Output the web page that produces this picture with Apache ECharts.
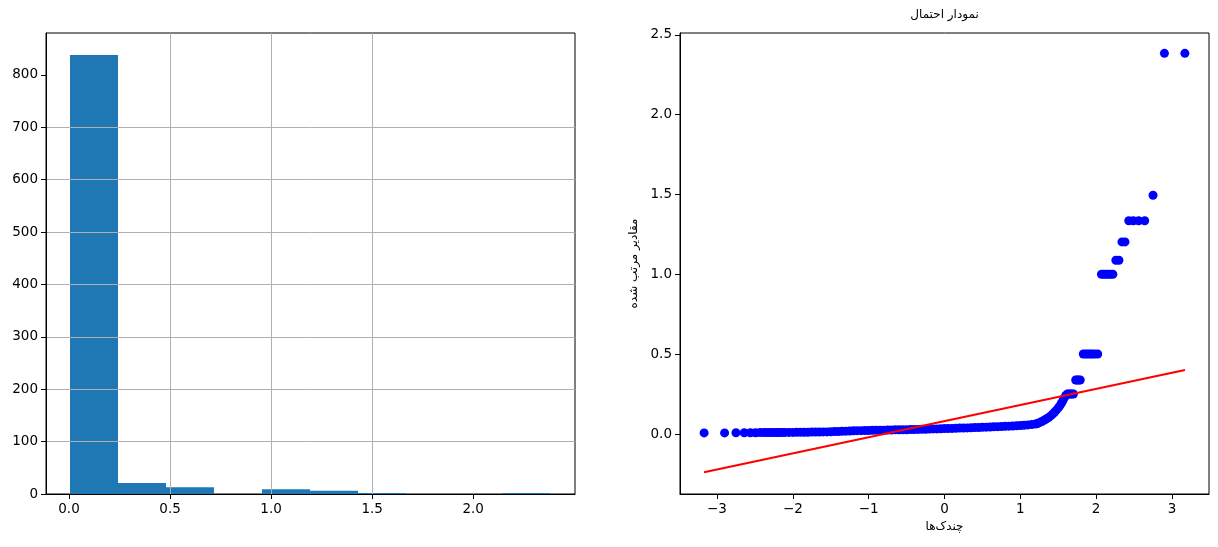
<!DOCTYPE html>
<html><head><meta charset="utf-8">
<script src="https://cdn.jsdelivr.net/npm/echarts@6/dist/echarts.min.js"></script>
<style>html,body{margin:0;padding:0;background:#fff}#c{width:1218px;height:547px}</style>
</head><body><div id="c"></div>
<script>
// ---- Histogram (left) ----
const binEdges = [0.005, 0.2425, 0.48, 0.7175, 0.955, 1.1925, 1.43, 1.6675, 1.905, 2.1425, 2.38];
const binCounts = [838, 21, 13, 0, 9, 6, 2, 0, 0, 2];
const histXTicks = [0, 0.5, 1, 1.5, 2];
const histYTicks = [0, 100, 200, 300, 400, 500, 600, 700, 800];

// ---- Probability plot (right) ----
const qqX = [-3.17,-2.90,-2.75,-2.64,-2.56,-2.49,-2.43,-2.38,-2.34,-2.30,-2.26,-2.22,-2.19,-2.16,-2.13,
 -2.10,-2.05,-2.00,-1.95,-1.90,-1.85,-1.80,-1.75,-1.70,-1.65,-1.60,-1.55,-1.50,-1.45,-1.40,-1.35,-1.30,-1.25,-1.20,-1.15,
 -1.10,-1.05,-1.00,-0.95,-0.90,-0.85,-0.80,-0.75,-0.70,-0.65,-0.60,-0.55,-0.50,-0.45,-0.40,-0.35,-0.30,-0.25,-0.20,-0.15,
 -0.10,-0.05,0.00,0.05,0.10,0.15,0.20,0.25,0.30,0.35,0.40,0.45,0.50,0.55,0.60,0.65,0.70,0.75,0.80,0.85,
 0.90,0.95,1.00,1.05,1.10,1.15,1.20,1.225,1.25,1.275,1.30,1.325,1.35,1.375,1.40,1.425,1.45,1.475,1.50,1.52,
 1.54,1.56,1.58,1.60,1.62,1.64,1.66,1.68,1.70,1.73,1.75,1.77,1.79,1.83,1.86,1.89,1.92,1.95,1.98,2.02,
 2.07,2.10,2.13,2.16,2.19,2.22,2.26,2.30,2.34,2.38,2.43,2.49,2.56,2.64,2.75,2.90,3.17];
const qqY = [0.011,0.011,0.012,0.012,0.012,0.012,0.013,0.013,0.013,0.013,0.013,0.013,0.014,0.014,0.014,
 0.014,0.014,0.014,0.015,0.015,0.015,0.015,0.016,0.016,0.016,0.017,0.017,0.018,0.019,0.020,0.021,0.022,0.023,0.024,0.025,
 0.025,0.026,0.026,0.027,0.027,0.028,0.028,0.029,0.029,0.030,0.030,0.031,0.031,0.032,0.032,0.033,0.034,0.034,0.035,0.036,
 0.036,0.037,0.038,0.038,0.039,0.040,0.041,0.041,0.042,0.043,0.044,0.045,0.046,0.047,0.048,0.049,0.050,0.051,0.052,0.053,
 0.054,0.055,0.057,0.059,0.061,0.063,0.066,0.070,0.075,0.080,0.086,0.093,0.100,0.108,0.117,0.128,0.140,0.153,0.167,0.180,
 0.195,0.212,0.230,0.245,0.254,0.254,0.254,0.254,0.254,0.342,0.342,0.342,0.342,0.504,0.504,0.504,0.504,0.504,0.504,0.504,
 1.003,1.003,1.003,1.003,1.003,1.003,1.09,1.09,1.205,1.205,1.337,1.337,1.337,1.337,1.497,2.384,2.384];
const fitX = [-3.171, 3.171];
const fitY = [-0.235, 0.404];
const qqXTicks = [-3, -2, -1, 0, 1, 2, 3];
const qqYTicks = [0, 0.5, 1, 1.5, 2, 2.5];

const titleText = 'نمودار احتمال';
const xName = 'چندک\u200cها';
const yName = 'مقادیر مرتب شده';

const FONT = 'DejaVu Sans';
const labelStyle = {color: '#000', fontFamily: FONT, fontSize: 13.5};
const axisLineStyle = {show: true, onZero: false, lineStyle: {color: '#000', width: 1}};
const tickStyle = {show: true, inside: false, length: 5, lineStyle: {color: '#000', width: 1}};

function minus(v) { return v < 0 ? '\u2212' + Math.abs(v) : String(v); }

const chart = echarts.init(document.getElementById('c'), null, {renderer: 'canvas'});
chart.setOption({
  animation: false,
  backgroundColor: '#fff',
  grid: [
    {left: 46, top: 33, width: 529, height: 461, show: true, borderColor: '#000', borderWidth: 1, backgroundColor: 'transparent'},
    {left: 680, top: 33, width: 529, height: 461, show: true, borderColor: '#000', borderWidth: 1, backgroundColor: 'transparent'}
  ],
  graphic: [{
    type: 'text', x: 944.5, y: 15,
    style: {text: titleText, align: 'center', verticalAlign: 'middle', fill: '#000', font: '12px "DejaVu Sans"'}
  }],
  xAxis: [
    {type: 'value', gridIndex: 0, min: -0.1138, max: 2.5038, z: 3, position: 'bottom',
     axisLine: axisLineStyle,
     axisTick: Object.assign({customValues: histXTicks}, tickStyle),
     axisLabel: Object.assign({customValues: histXTicks, margin: 8, formatter: v => v.toFixed(1)}, labelStyle),
     splitLine: {show: true, showMinLine: false, showMaxLine: false, lineStyle: {color: '#b0b0b0', width: 1}}},
    {type: 'value', gridIndex: 1, min: -3.488, max: 3.488, position: 'bottom',
     axisLine: axisLineStyle,
     axisTick: Object.assign({customValues: qqXTicks}, tickStyle),
     axisLabel: Object.assign({customValues: qqXTicks, margin: 8, formatter: v => minus(v)}, labelStyle),
     splitLine: {show: false},
     name: xName, nameLocation: 'middle', nameGap: 27,
     nameTextStyle: {color: '#000', fontFamily: FONT, fontSize: 12}}
  ],
  yAxis: [
    {type: 'value', gridIndex: 0, min: 0, max: 880, interval: 100, z: 3, position: 'left',
     axisLine: axisLineStyle,
     axisTick: Object.assign({customValues: histYTicks}, tickStyle),
     axisLabel: Object.assign({customValues: histYTicks, margin: 8, formatter: v => String(v)}, labelStyle),
     splitLine: {show: true, showMinLine: false, showMaxLine: false, lineStyle: {color: '#b0b0b0', width: 1}}},
    {type: 'value', gridIndex: 1, min: -0.371, max: 2.511, position: 'left',
     axisLine: axisLineStyle,
     axisTick: Object.assign({customValues: qqYTicks}, tickStyle),
     axisLabel: Object.assign({customValues: qqYTicks, margin: 8, formatter: v => v.toFixed(1)}, labelStyle),
     splitLine: {show: false},
     name: yName, nameLocation: 'middle', nameGap: 40, nameRotate: 90,
     nameTextStyle: {color: '#000', fontFamily: FONT, fontSize: 12}}
  ],
  series: [
    {type: 'custom', xAxisIndex: 0, yAxisIndex: 0, z: 1,
     data: binCounts.map((c, i) => [binEdges[i], binEdges[i + 1], c]),
     encode: {x: [0, 1], y: 2},
     renderItem: function (params, api) {
       const p0 = api.coord([api.value(0), api.value(2)]);
       const p1 = api.coord([api.value(1), 0]);
       return {type: 'rect', shape: {x: p0[0], y: p0[1], width: p1[0] - p0[0], height: p1[1] - p0[1]},
               style: {fill: '#1f77b4'}};
     }},
    {type: 'scatter', xAxisIndex: 1, yAxisIndex: 1, z: 2, symbol: 'circle', symbolSize: 9,
     itemStyle: {color: '#0000ff', opacity: 1},
     data: qqX.map((x, i) => [x, qqY[i]])},
    {type: 'line', xAxisIndex: 1, yAxisIndex: 1, z: 3, showSymbol: false, symbol: 'none',
     lineStyle: {color: '#ff0000', width: 2},
     data: fitX.map((x, i) => [x, fitY[i]])}
  ]
});
</script></body></html>
